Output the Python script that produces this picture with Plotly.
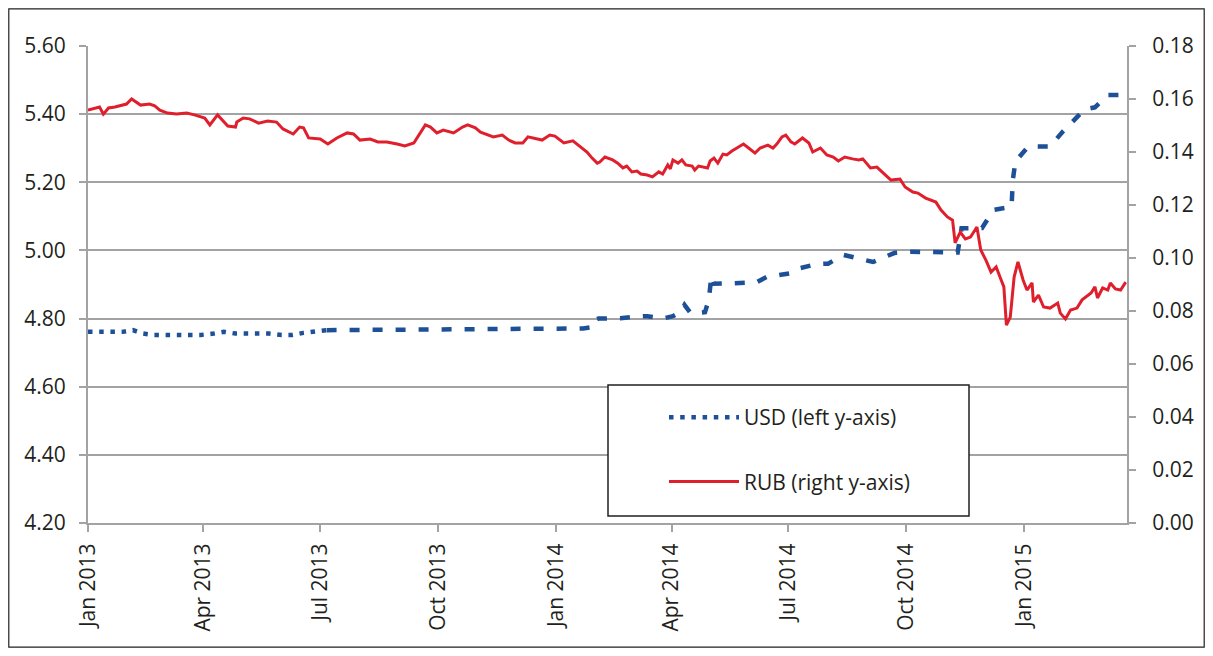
import plotly.graph_objects as go

# ---- data ----
rub_dates = [
    "2013-01-01", "2013-01-10", "2013-01-13", "2013-01-17", "2013-01-22", "2013-01-26", "2013-01-31",
    "2013-02-04", "2013-02-11", "2013-02-18", "2013-02-22", "2013-02-26", "2013-03-04", "2013-03-11",
    "2013-03-19", "2013-03-25", "2013-04-02", "2013-04-06", "2013-04-12", "2013-04-20", "2013-04-26",
    "2013-04-27", "2013-05-02", "2013-05-07", "2013-05-14", "2013-05-21", "2013-05-28", "2013-06-02",
    "2013-06-10", "2013-06-15", "2013-06-18", "2013-06-22", "2013-07-01", "2013-07-07", "2013-07-14",
    "2013-07-22", "2013-07-27", "2013-08-01", "2013-08-09", "2013-08-15", "2013-08-22", "2013-08-30",
    "2013-09-05", "2013-09-12", "2013-09-17", "2013-09-21", "2013-09-25", "2013-09-30", "2013-10-05",
    "2013-10-13", "2013-10-20", "2013-10-24", "2013-10-30", "2013-11-03", "2013-11-13", "2013-11-20",
    "2013-11-25", "2013-11-30", "2013-12-06", "2013-12-10", "2013-12-21", "2013-12-27", "2013-12-31",
    "2014-01-07", "2014-01-14", "2014-01-20", "2014-01-25", "2014-01-29", "2014-02-02", "2014-02-04",
    "2014-02-08", "2014-02-14", "2014-02-18", "2014-02-22", "2014-02-25", "2014-03-01", "2014-03-05",
    "2014-03-08", "2014-03-13", "2014-03-17", "2014-03-22", "2014-03-25", "2014-03-29", "2014-03-31",
    "2014-04-02", "2014-04-06", "2014-04-09", "2014-04-12", "2014-04-17", "2014-04-19", "2014-04-22",
    "2014-04-29", "2014-05-01", "2014-05-04", "2014-05-07", "2014-05-11", "2014-05-14", "2014-05-18",
    "2014-05-23", "2014-05-27", "2014-05-31", "2014-06-05", "2014-06-09", "2014-06-15", "2014-06-19",
    "2014-06-22", "2014-06-26", "2014-06-29", "2014-07-03", "2014-07-06", "2014-07-12", "2014-07-17",
    "2014-07-20", "2014-07-26", "2014-07-31", "2014-08-05", "2014-08-09", "2014-08-14", "2014-08-20",
    "2014-08-25", "2014-08-28", "2014-09-03", "2014-09-08", "2014-09-13", "2014-09-19", "2014-09-26",
    "2014-09-30", "2014-10-06", "2014-10-10", "2014-10-16", "2014-10-24", "2014-10-28", "2014-11-02",
    "2014-11-06", "2014-11-08", "2014-11-12", "2014-11-16", "2014-11-20", "2014-11-25", "2014-11-28",
    "2014-12-02", "2014-12-06", "2014-12-10", "2014-12-13", "2014-12-16", "2014-12-18", "2014-12-21",
    "2014-12-24", "2014-12-27", "2014-12-31", "2015-01-03", "2015-01-07", "2015-01-08", "2015-01-12",
    "2015-01-16", "2015-01-21", "2015-01-27", "2015-01-29", "2015-02-02", "2015-02-06", "2015-02-11",
    "2015-02-15", "2015-02-22", "2015-02-25", "2015-02-27", "2015-03-03", "2015-03-07", "2015-03-09",
    "2015-03-13", "2015-03-17", "2015-03-21",
]
rub_values = [
    0.1558, 0.1570, 0.1543, 0.1566, 0.1570, 0.1574, 0.1581,
    0.1600, 0.1577, 0.1581, 0.1574, 0.1558, 0.1547, 0.1543,
    0.1547, 0.1540, 0.1528, 0.1502, 0.1540, 0.1498, 0.1494,
    0.1513, 0.1528, 0.1525, 0.1509, 0.1517, 0.1513, 0.1487,
    0.1468, 0.1494, 0.1491, 0.1453, 0.1449, 0.1430, 0.1453,
    0.1472, 0.1468, 0.1445, 0.1449, 0.1438, 0.1438, 0.1430,
    0.1423, 0.1434, 0.1472, 0.1502, 0.1494, 0.1472, 0.1483,
    0.1472, 0.1494, 0.1502, 0.1491, 0.1475, 0.1457, 0.1464,
    0.1445, 0.1434, 0.1434, 0.1457, 0.1445, 0.1464, 0.1460,
    0.1434, 0.1442, 0.1419, 0.1400, 0.1377, 0.1358, 0.1362,
    0.1381, 0.1370, 0.1358, 0.1340, 0.1347, 0.1325, 0.1328,
    0.1317, 0.1313, 0.1306, 0.1325, 0.1317, 0.1351, 0.1336,
    0.1370, 0.1358, 0.1370, 0.1351, 0.1347, 0.1332, 0.1347,
    0.1340, 0.1366, 0.1377, 0.1358, 0.1392, 0.1389, 0.1404,
    0.1419, 0.1430, 0.1415, 0.1396, 0.1415, 0.1426, 0.1415,
    0.1430, 0.1457, 0.1464, 0.1438, 0.1430, 0.1453, 0.1434,
    0.1400, 0.1415, 0.1389, 0.1381, 0.1366, 0.1381, 0.1374,
    0.1370, 0.1374, 0.1340, 0.1343, 0.1321, 0.1294, 0.1298,
    0.1268, 0.1249, 0.1245, 0.1226, 0.1211, 0.1181, 0.1155,
    0.1143, 0.1057, 0.1098, 0.1072, 0.1079, 0.1117, 0.1030,
    0.0992, 0.0947, 0.0966, 0.0928, 0.0891, 0.0747, 0.0777,
    0.0928, 0.0985, 0.0917, 0.0879, 0.0906, 0.0834, 0.0860,
    0.0815, 0.0811, 0.0830, 0.0792, 0.0770, 0.0804, 0.0811,
    0.0842, 0.0868, 0.0891, 0.0849, 0.0887, 0.0879, 0.0906,
    0.0883, 0.0879, 0.0909,
]

usd_dates = [
    "2013-01-01", "2013-01-28", "2013-02-05", "2013-02-13", "2013-02-21", "2013-03-30", "2013-04-09",
    "2013-04-17", "2013-04-26", "2013-05-22", "2013-06-01", "2013-06-09", "2013-06-18", "2013-06-27",
    "2013-07-06", "2013-09-15", "2013-12-01", "2014-01-22", "2014-01-30", "2014-02-01", "2014-02-03",
    "2014-02-20", "2014-03-05", "2014-03-13", "2014-03-25", "2014-04-02", "2014-04-08", "2014-04-11",
    "2014-04-16", "2014-04-27", "2014-04-30", "2014-05-02", "2014-05-04", "2014-05-18", "2014-06-06",
    "2014-06-14", "2014-06-23", "2014-07-04", "2014-07-10", "2014-07-23", "2014-08-01", "2014-08-13",
    "2014-09-05", "2014-09-22", "2014-10-05", "2014-11-10", "2014-11-13", "2014-11-29", "2014-12-08",
    "2014-12-22", "2014-12-23", "2014-12-25", "2015-01-04", "2015-01-21", "2015-01-31", "2015-02-08",
    "2015-02-17", "2015-02-25", "2015-03-07", "2015-03-21",
]
usd_values = [
    4.761, 4.761, 4.766, 4.756, 4.752, 4.752, 4.756,
    4.761, 4.756, 4.756, 4.752, 4.752, 4.758, 4.761,
    4.766, 4.767, 4.768, 4.771, 4.775, 4.797, 4.800,
    4.801, 4.806, 4.807, 4.800, 4.807, 4.820, 4.840,
    4.815, 4.819, 4.855, 4.925, 4.902, 4.904, 4.906,
    4.922, 4.928, 4.934, 4.948, 4.960, 4.961, 4.987,
    4.966, 4.993, 4.996, 4.994, 5.065, 5.066, 5.119,
    5.128, 5.207, 5.261, 5.305, 5.305, 5.349, 5.378,
    5.414, 5.420, 5.456, 5.456,
]
usd_split_date = "2013-07-06"

tick_vals = ["2013-01-01", "2013-04-01", "2013-07-01", "2013-10-01", "2014-01-01",
             "2014-04-01", "2014-07-01", "2014-10-01", "2015-01-01"]
tick_text = ["Jan 2013", "Apr 2013", "Jul 2013", "Oct 2013", "Jan 2014",
             "Apr 2014", "Jul 2014", "Oct 2014", "Jan 2015"]

usd_name = "USD (left y-axis)"
rub_name = "RUB (right y-axis)"

# ---- style ----
FONT = "Open Sans"
TXT = "#231f20"
GRID = "#a3a3a5"
BLUE = "#1d5096"
RED = "#e01f2d"

k = usd_dates.index(usd_split_date)

fig = go.Figure()
fig.add_trace(go.Scatter(
    x=usd_dates[:k + 1], y=usd_values[:k + 1], mode="lines", name=usd_name,
    legendgroup="usd", line=dict(color=BLUE, width=4.5, dash="4.5px,6.7px"),
    yaxis="y",
))
fig.add_trace(go.Scatter(
    x=usd_dates[k:], y=usd_values[k:], mode="lines", name=usd_name,
    legendgroup="usd", showlegend=False,
    line=dict(color=BLUE, width=4.5, dash="10px,13px"), yaxis="y",
))
fig.add_trace(go.Scatter(
    x=rub_dates, y=rub_values, mode="lines", name=rub_name,
    legendgroup="rub", line=dict(color=RED, width=3), yaxis="y2",
))

# page body adds an 8px offset; lay out in screen pixels and compensate
OFF = 8
W, H = 1213 - 2 * OFF, 656 - 2 * OFF
PL, PR, PT, PB = 88, 1127, 46, 523          # plot area in screen pixels
L, T = PL - OFF, PT - OFF
R, B = W - (PR - OFF), H - (PB - OFF)
pw, ph = PR - PL, PB - PT


def px(xs):
    return (xs - PL) / pw


def py(ys):
    return (PB - ys) / ph


fig.update_layout(
    width=W, height=H,
    margin=dict(l=L, r=R, t=T, b=B, pad=0),
    paper_bgcolor="white", plot_bgcolor="white",
    font=dict(family=FONT, size=21, color=TXT),
    showlegend=True,
    legend=dict(
        x=px(664), y=py(397), xanchor="left", yanchor="top",
        bgcolor="rgba(0,0,0,0)", borderwidth=0,
        font=dict(family=FONT, size=21, color=TXT),
        traceorder="grouped", tracegroupgap=34, itemwidth=70,
    ),
    xaxis=dict(
        type="date", range=["2013-01-01", "2015-03-22"],
        tickmode="array", tickvals=tick_vals, ticktext=tick_text,
        tickangle=-90, ticks="outside", ticklen=7, tickwidth=2, tickcolor=GRID,
        showline=True, linecolor=GRID, linewidth=2,
        showgrid=False, zeroline=False, ticklabelstandoff=3,
        tickfont=dict(family=FONT, size=21, color=TXT),
    ),
    yaxis=dict(
        range=[4.2, 5.6], dtick=0.2, tick0=4.2, tickformat=".2f",
        ticks="outside", ticklen=7, tickwidth=2, tickcolor=GRID,
        showline=True, linecolor=GRID, linewidth=2,
        showgrid=True, gridcolor=GRID, gridwidth=2, zeroline=False,
        ticklabelstandoff=9,
        tickfont=dict(family=FONT, size=21, color=TXT),
    ),
    yaxis2=dict(
        range=[0, 0.18], dtick=0.02, tick0=0, tickformat=".2f",
        overlaying="y", side="right",
        ticks="outside", ticklen=7, tickwidth=2, tickcolor=GRID,
        showline=True, linecolor=GRID, linewidth=2,
        showgrid=False, zeroline=False, ticklabelstandoff=12,
        tickfont=dict(family=FONT, size=21, color=TXT),
    ),
    shapes=[
        dict(type="rect", xref="paper", yref="paper",
             x0=px(608), x1=px(969), y0=py(516), y1=py(385),
             fillcolor="white", line=dict(color=TXT, width=1.5), layer="above"),
        dict(type="rect", xref="paper", yref="paper",
             x0=px(OFF + 0.8), x1=px(OFF + W - 0.8), y0=py(OFF + H - 0.8), y1=py(OFF + 0.8),
             fillcolor="rgba(0,0,0,0)", line=dict(color=TXT, width=1.2), layer="below"),
    ],
)

fig.write_html("out.html")
